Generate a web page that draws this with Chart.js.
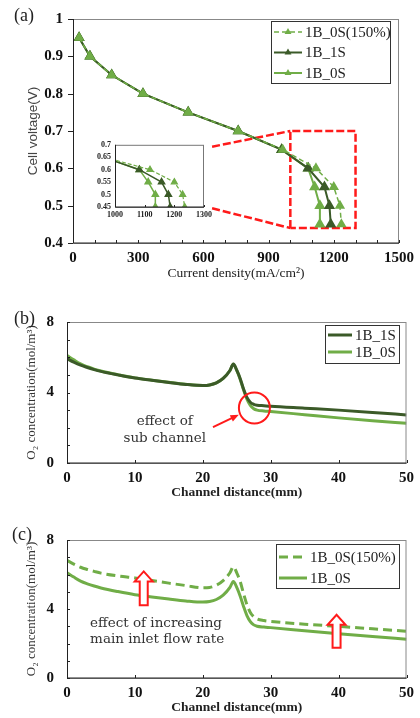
<!DOCTYPE html>
<html>
<head>
<meta charset="utf-8">
<script src="https://cdn.jsdelivr.net/npm/chart.js@4.4.0/dist/chart.umd.min.js"></script>
<style>
  body { margin: 0; background: #fff; width: 420px; height: 718px; position: relative; overflow: hidden; }
  canvas { position: absolute; }
  .plabel { position: absolute; font: 18px "Liberation Serif", "DejaVu Serif", serif; color: #222; }
</style>
</head>
<body>
<canvas id="chartA" width="420" height="290" style="left:0;top:0"></canvas>
<canvas id="chartInset" width="135" height="90" style="left:80px;top:136px"></canvas>
<canvas id="chartB" width="420" height="205" style="left:0;top:300px"></canvas>
<canvas id="chartC" width="420" height="200" style="left:0;top:518px"></canvas>
<div class="plabel" style="left:14px;top:5px">(a)</div>
<div class="plabel" style="left:14px;top:308px">(b)</div>
<div class="plabel" style="left:12px;top:524px">(c)</div>

<script>
// ---- panel (a): polarization curves ----
const voltage = [0.95, 0.9, 0.85, 0.8, 0.75, 0.7, 0.65, 0.6, 0.55, 0.5, 0.45];
const current_1B_0S_150 = [28, 78, 178, 322, 530, 760, 965, 1118, 1200, 1228, 1235];
const current_1B_1S = [28, 78, 178, 322, 530, 760, 960, 1082, 1157, 1180, 1186];
const current_1B_0S = [28, 78, 178, 322, 530, 760, 960, 1082, 1112, 1136, 1136];

// zoom window (data coords of panel a) and links towards the inset
const zoomBoxX = [1000, 1000, 1300, 1300, 1000];
const zoomBoxY = [0.44, 0.70, 0.70, 0.44, 0.44];
const linkTopX = [640, 1000], linkTopY = [0.658, 0.70];
const linkBotX = [640, 1000], linkBotY = [0.493, 0.44];

// ---- panels (b) and (c): O2 concentration along the channel ----
const distance = [0, 1, 2, 3, 4, 5, 7.5, 10, 12.5, 15, 17.5, 20, 21, 22, 23, 24, 24.5, 25, 25.5, 26, 26.5, 27, 27.5, 28, 29, 30, 35, 40, 45, 50];
const o2_1B_0S = [6.1, 5.85, 5.62, 5.46, 5.33, 5.22, 5.01, 4.83, 4.7, 4.58, 4.47, 4.4, 4.43, 4.55, 4.8, 5.25, 5.6, 5.25, 4.75, 4.15, 3.62, 3.27, 3.08, 3.0, 2.95, 2.92, 2.74, 2.56, 2.4, 2.25];
const o2_1B_1S = [5.92, 5.72, 5.55, 5.42, 5.3, 5.2, 5.0, 4.82, 4.69, 4.57, 4.46, 4.4, 4.43, 4.55, 4.8, 5.25, 5.62, 5.27, 4.8, 4.2, 3.72, 3.45, 3.33, 3.28, 3.25, 3.22, 3.11, 3.0, 2.87, 2.73];
const o2_1B_0S_150 = [6.82, 6.6, 6.42, 6.29, 6.18, 6.08, 5.92, 5.8, 5.65, 5.5, 5.36, 5.23, 5.25, 5.38, 5.65, 6.1, 6.45, 6.1, 5.6, 4.9, 4.25, 3.8, 3.55, 3.42, 3.33, 3.28, 3.12, 2.99, 2.85, 2.71];

// annotation anchors (data coords)
const subChannelCircle = [27.6, 3.12];
const subChannelArrow = [21.5, 2.03, 25.3, 2.74];
const flowArrows = [[11.3, 4.22, 6.18], [39.7, 1.76, 3.66]];

const LIGHT = "#70AD47", DARK = "#3B5A28", RED = "#FF1A1A";
const SERIF = '"Liberation Serif", "DejaVu Serif", serif';
const NOTE_FONT = '"DejaVu Serif", serif';
const pts = (xs, ys) => xs.map((v, i) => ({ x: v, y: ys[i] }));
const numLabel = v => String(+v.toFixed(2));

// frame around plot area + small tick marks
const frameTicks = {
    id: "frameTicks",
    afterDraw(chart, args, o) {
        if (!o.x) return;
        const { ctx, chartArea: a, scales } = chart;
        ctx.save();
        ctx.strokeStyle = o.frame || "#888";
        ctx.lineWidth = 1;
        ctx.strokeRect(a.left + 0.5, a.top + 0.5, a.right - a.left - 1, a.bottom - a.top);
        ctx.strokeStyle = "#222";
        ctx.beginPath();
        ctx.moveTo(a.left + 0.5, a.top); ctx.lineTo(a.left + 0.5, a.bottom);
        ctx.lineTo(a.right, a.bottom);
        ctx.stroke();
        ["x", "y"].forEach(k => {
            const s = scales[k], t = o[k];
            const n = Math.round((s.max - s.min) / t.step);
            for (let i = 0; i <= n; i++) {
                const p = Math.round(s.getPixelForValue(s.min + i * t.step)) + 0.5;
                ctx.beginPath();
                if (k === "x") {
                    ctx.moveTo(p, a.bottom);
                    ctx.lineTo(p, a.bottom + (t.inside ? -t.len : t.len));
                } else {
                    ctx.moveTo(a.left, p);
                    ctx.lineTo(a.left + (t.inside ? t.len : -t.len), p);
                }
                ctx.stroke();
            }
        });
        ctx.restore();
    }
};

function triangle(ctx, x, y, r) {
    ctx.beginPath();
    ctx.moveTo(x, y - r);
    ctx.lineTo(x + r * 0.866, y + r * 0.5);
    ctx.lineTo(x - r * 0.866, y + r * 0.5);
    ctx.closePath();
    ctx.fill();
}

// boxed legend with line samples
const boxLegend = {
    id: "boxLegend",
    afterDraw(chart, args, o) {
        if (!o.items) return;
        const ctx = chart.ctx;
        ctx.save();
        ctx.fillStyle = "#fff";
        ctx.fillRect(o.left, o.top, o.width, o.height);
        ctx.strokeStyle = "#333";
        ctx.lineWidth = 1;
        ctx.strokeRect(o.left + 0.5, o.top + 0.5, o.width, o.height);
        o.items.forEach((idx, i) => {
            const ds = chart.data.datasets[idx];
            const y = o.top + o.rowTop + i * o.rowH;
            ctx.strokeStyle = ds.borderColor;
            ctx.lineWidth = ds.borderWidth;
            ctx.setLineDash(ds.borderDash || []);
            ctx.beginPath();
            ctx.moveTo(o.left + o.line[0], y);
            ctx.lineTo(o.left + o.line[1], y);
            ctx.stroke();
            ctx.setLineDash([]);
            if (ds.pointRadius) {
                ctx.fillStyle = ds.borderColor;
                triangle(ctx, o.left + (o.line[0] + o.line[1]) / 2, y, 4);
            }
            ctx.fillStyle = "#222";
            ctx.font = "15px " + SERIF;
            ctx.textBaseline = "middle";
            ctx.fillText(ds.label, o.left + o.textX, y + 1);
        });
        ctx.restore();
    }
};

// text, circle and arrows placed in data coordinates
const notes = {
    id: "notes",
    afterDatasetsDraw(chart, args, o) {
        const { ctx, scales: { x, y } } = chart;
        ctx.save();
        (o.texts || []).forEach(t => {
            ctx.font = o.font;
            ctx.fillStyle = "#333";
            ctx.textAlign = t.align || "center";
            ctx.textBaseline = "middle";
            ctx.fillText(t.text, x.getPixelForValue(t.x), y.getPixelForValue(t.y));
        });
        ctx.strokeStyle = RED;
        ctx.fillStyle = RED;
        ctx.lineWidth = 2;
        if (o.circle) {
            ctx.beginPath();
            ctx.arc(x.getPixelForValue(o.circle[0]), y.getPixelForValue(o.circle[1]), 15.5, 0, Math.PI * 2);
            ctx.stroke();
        }
        if (o.arrow) {
            const x0 = x.getPixelForValue(o.arrow[0]), y0 = y.getPixelForValue(o.arrow[1]);
            const x1 = x.getPixelForValue(o.arrow[2]), y1 = y.getPixelForValue(o.arrow[3]);
            const ang = Math.atan2(y1 - y0, x1 - x0);
            ctx.beginPath();
            ctx.moveTo(x0, y0);
            ctx.lineTo(x1 - 6 * Math.cos(ang), y1 - 6 * Math.sin(ang));
            ctx.stroke();
            ctx.beginPath();
            ctx.moveTo(x1, y1);
            ctx.lineTo(x1 - 9 * Math.cos(ang - 0.4), y1 - 9 * Math.sin(ang - 0.4));
            ctx.lineTo(x1 - 9 * Math.cos(ang + 0.4), y1 - 9 * Math.sin(ang + 0.4));
            ctx.closePath();
            ctx.fill();
        }
        (o.hollow || []).forEach(h => {
            const cx = x.getPixelForValue(h[0]), yb = y.getPixelForValue(h[1]), yt = y.getPixelForValue(h[2]);
            const hh = 10;
            ctx.beginPath();
            ctx.moveTo(cx - 4, yb);
            ctx.lineTo(cx - 4, yt + hh);
            ctx.lineTo(cx - 9, yt + hh);
            ctx.lineTo(cx, yt);
            ctx.lineTo(cx + 9, yt + hh);
            ctx.lineTo(cx + 4, yt + hh);
            ctx.lineTo(cx + 4, yb);
            ctx.closePath();
            ctx.fillStyle = "#fff";
            ctx.fill();
            ctx.stroke();
        });
        ctx.restore();
    }
};

Chart.register(frameTicks, boxLegend, notes);

function axisFont(size, bold) {
    return { family: SERIF, size: size, weight: bold ? "bold" : "normal" };
}

function lineSet(label, data, color, width, dashed, radius) {
    return {
        label: label, data: data,
        borderColor: color, backgroundColor: color,
        pointBackgroundColor: color, pointBorderColor: color,
        borderWidth: width, borderDash: dashed ? dashed : [],
        pointStyle: "triangle", pointRadius: radius, pointHoverRadius: radius,
        tension: 0, showLine: true
    };
}

function redSet(xs, ys) {
    return {
        label: "", data: pts(xs, ys), borderColor: RED, borderWidth: 2.5,
        borderDash: [8, 3], pointRadius: 0, showLine: true, tension: 0
    };
}

function createCharts() {
    // ---- (a) ----
    new Chart(document.getElementById("chartA"), {
        type: "scatter",
        data: {
            datasets: [
                lineSet("1B_0S(150%)", pts(current_1B_0S_150, voltage), LIGHT, 1.5, [5, 3], 4.5),
                lineSet("1B_1S", pts(current_1B_1S, voltage), DARK, 2, null, 4.5),
                lineSet("1B_0S", pts(current_1B_0S, voltage), LIGHT, 2, null, 4.5),
                redSet(zoomBoxX, zoomBoxY),
                redSet(linkTopX, linkTopY),
                redSet(linkBotX, linkBotY)
            ]
        },
        options: {
            responsive: false, animation: false,
            layout: { padding: { top: 12, right: 21, left: 0, bottom: 0 } },
            plugins: {
                legend: { display: false }, tooltip: { enabled: false },
                frameTicks: { x: { step: 100, len: 3, inside: true }, y: { step: 0.1, len: 5, inside: false } },
                boxLegend: { items: [0, 1, 2], left: 271, top: 21, width: 119, height: 62, rowTop: 11, rowH: 20.5, line: [3, 31], textX: 34 }
            },
            scales: {
                x: {
                    type: "linear", min: 0, max: 1500,
                    afterFit: s => { s.height = 47; },
                    grid: { display: false, drawTicks: false },
                    border: { display: false },
                    ticks: { stepSize: 300, padding: 6, color: "#111", font: axisFont(15, true), callback: v => String(v) },
                    title: { display: true, text: "Current density(mA/cm²)", color: "#222", font: axisFont(13.5, false), padding: { top: 0, bottom: 8 } }
                },
                y: {
                    min: 0.4, max: 1,
                    afterFit: s => { s.width = 73; },
                    grid: { display: false, drawTicks: false },
                    border: { display: false },
                    ticks: { stepSize: 0.1, padding: 10, color: "#111", font: axisFont(15, true), callback: numLabel },
                    title: { display: true, text: "Cell voltage(V)", color: "#444", font: { family: '"Liberation Sans", sans-serif', size: 13.5 }, padding: { top: 25 } }
                }
            }
        }
    });

    // ---- inset of (a) ----
    new Chart(document.getElementById("chartInset"), {
        type: "scatter",
        data: {
            datasets: [
                lineSet("1B_0S(150%)", pts(current_1B_0S_150, voltage), LIGHT, 1.2, [4, 2], 3.5),
                lineSet("1B_1S", pts(current_1B_1S, voltage), DARK, 1.5, null, 3.5),
                lineSet("1B_0S", pts(current_1B_0S, voltage), LIGHT, 1.5, null, 3.5)
            ]
        },
        options: {
            responsive: false, animation: false,
            layout: { padding: { top: 7, right: 8, left: 0, bottom: 0 } },
            plugins: {
                legend: { display: false }, tooltip: { enabled: false },
                frameTicks: { frame: "#777", x: { step: 100, len: 2, inside: true }, y: { step: 0.05, len: 0, inside: true } }
            },
            scales: {
                x: {
                    type: "linear", min: 1000, max: 1300,
                    afterFit: s => { s.height = 19; },
                    grid: { display: false, drawTicks: false },
                    border: { display: false },
                    ticks: { stepSize: 100, padding: 3, autoSkip: false, maxRotation: 0, color: "#222", font: axisFont(8, true), callback: v => String(v) }
                },
                y: {
                    min: 0.45, max: 0.7,
                    afterFit: s => { s.width = 35; },
                    grid: { display: false, drawTicks: false },
                    border: { display: false },
                    ticks: { stepSize: 0.05, padding: 4, autoSkip: false, color: "#222", font: axisFont(8, true), callback: numLabel }
                }
            }
        }
    });

    // shared options for (b) and (c)
    function o2Options(canvasH, plotTop, plotBottom, titleBottom, legend, noteOpts) {
        return {
            responsive: false, animation: false,
            layout: { padding: { top: plotTop, right: 13, left: 0, bottom: 0 } },
            plugins: {
                legend: { display: false }, tooltip: { enabled: false },
                frameTicks: { x: { step: 10, len: 3, inside: true }, y: { step: 1, len: 3, inside: true } },
                boxLegend: legend,
                notes: noteOpts
            },
            scales: {
                x: {
                    type: "linear", min: 0, max: 50,
                    afterFit: s => { s.height = canvasH - plotBottom; },
                    grid: { display: false, drawTicks: false },
                    border: { display: false },
                    ticks: { stepSize: 10, padding: 6, color: "#111", font: axisFont(15, true) },
                    title: { display: true, text: "Channel distance(mm)", color: "#222", font: axisFont(13.5, true), padding: { top: 0, bottom: titleBottom } }
                },
                y: {
                    min: 0, max: 8,
                    afterFit: s => { s.width = 67; },
                    grid: { display: false, drawTicks: false },
                    border: { display: false },
                    ticks: { stepSize: 4, padding: 13, color: "#111", font: axisFont(15, true) },
                    title: { display: true, text: "O₂ concentration(mol/m³)", color: "#333", font: axisFont(13, false), padding: { top: 24 } }
                }
            }
        };
    }

    function curve(label, ys, color, dashed) {
        return {
            label: label, data: pts(distance, ys), borderColor: color,
            borderWidth: 3, borderDash: dashed ? [9, 5] : [],
            pointRadius: 0, showLine: true, cubicInterpolationMode: "monotone"
        };
    }

    // ---- (b) ----
    new Chart(document.getElementById("chartB"), {
        type: "scatter",
        data: { datasets: [curve("1B_1S", o2_1B_1S, DARK), curve("1B_0S", o2_1B_0S, LIGHT)] },
        options: o2Options(205, 17, 163, 4,
            { items: [0, 1], left: 325, top: 25, width: 74, height: 38, rowTop: 10, rowH: 17, line: [3, 27], textX: 30 },
            {
                font: "13.5px " + NOTE_FONT,
                texts: [{ x: 14.4, y: 2.36, text: "effect of" }, { x: 14.4, y: 1.37, text: "sub channel" }],
                circle: subChannelCircle,
                arrow: subChannelArrow
            })
    });

    // ---- (c) ----
    new Chart(document.getElementById("chartC"), {
        type: "scatter",
        data: { datasets: [curve("1B_0S(150%)", o2_1B_0S_150, LIGHT, true), curve("1B_0S", o2_1B_0S, LIGHT)] },
        options: o2Options(200, 18, 160, 2,
            { items: [0, 1], left: 276, top: 26, width: 123, height: 44, rowTop: 13, rowH: 21, line: [3, 31], textX: 34 },
            {
                font: "13.5px " + NOTE_FONT,
                texts: [{ x: 3.4, y: 3.16, text: "effect of increasing", align: "left" },
                        { x: 3.4, y: 2.26, text: "main inlet flow rate", align: "left" }],
                hollow: flowArrows
            })
    });
}

document.addEventListener("DOMContentLoaded", createCharts);
</script>
</body>
</html>
